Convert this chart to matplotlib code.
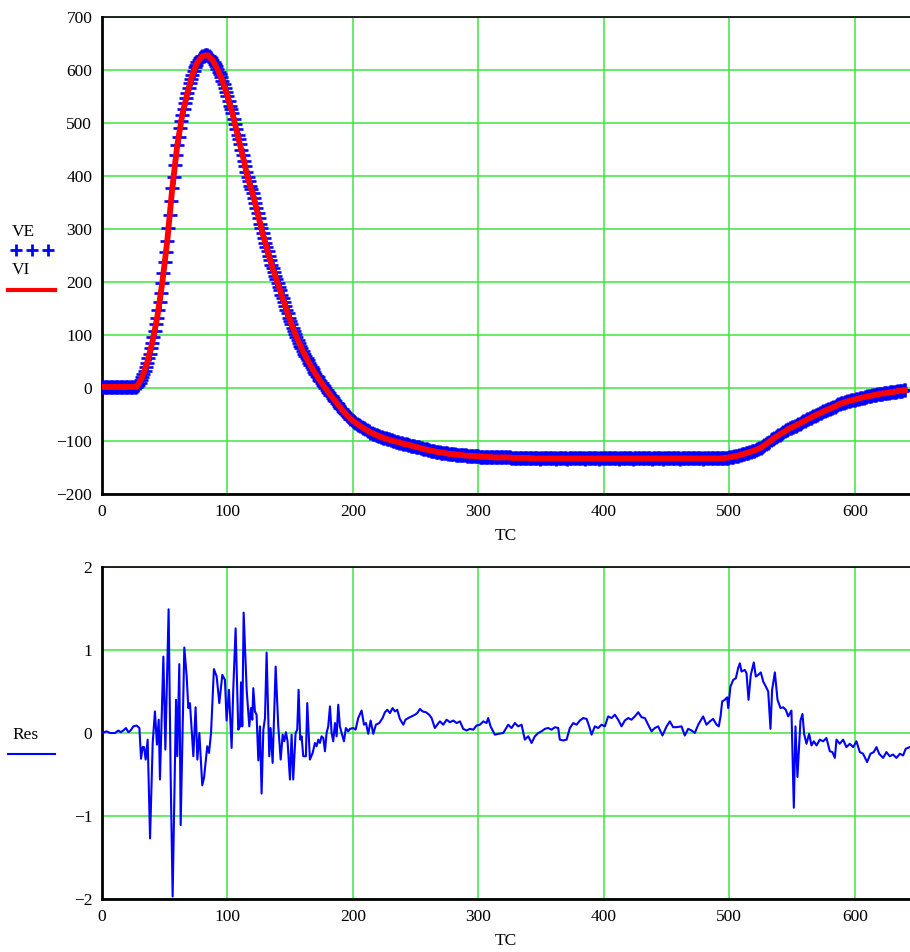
import numpy as np
import matplotlib
matplotlib.use("Agg")
import matplotlib.pyplot as plt
from matplotlib.lines import Line2D

plt.rcParams['font.family'] = ['Liberation Serif', 'DejaVu Serif']
plt.rcParams['axes.unicode_minus'] = True

# ---------------- data ----------------
# VE: measured values, one per TC step (TC = 0 .. 640)
ve = [
    2, 2, 2, 2, 2, 2, 2, 2, 2, 2, 2, 2, 2, 2, 2, 2, 2, 2, 2, 2,
    2, 2, 2, 2, 2, 2, 2, 2, 3, 6, 10, 15, 20, 26, 32, 40, 48, 56, 65, 75,
    85, 96, 107, 120, 133, 148, 163, 180, 198, 217, 237, 257, 277, 302, 327, 352, 377, 399, 420, 440,
    458, 474, 490, 503, 516, 527, 537, 547, 556, 566, 575, 583, 591, 598, 605, 610, 615, 619, 622, 624,
    626, 627, 628, 628, 628, 627, 625, 622, 619, 615, 611, 607, 602, 597, 592, 586, 580, 573, 566, 559,
    551, 542, 533, 526, 518, 508, 498, 488, 478, 469, 460, 450, 440, 429, 418, 408, 398, 390, 382, 375,
    368, 359, 350, 340, 330, 320, 310, 301, 292, 283, 274, 266, 258, 249, 241, 233, 226, 219, 212, 205,
    198, 191, 184, 176, 169, 162, 155, 148, 141, 133, 126, 120, 114, 108, 102, 96, 91, 85, 80, 75,
    70, 65, 61, 56, 52, 47, 43, 39, 35, 31, 27, 23, 20, 16, 13, 9, 6, 3, 0, -3,
    -7, -10, -13, -16, -19, -22, -25, -28, -31, -34, -37, -40, -43, -45, -48, -50, -53, -55, -58, -60,
    -62, -64, -66, -67, -69, -70, -72, -73, -75, -76, -78, -79, -81, -82, -84, -85, -86, -87, -88, -89,
    -90, -91, -92, -93, -94, -94, -95, -96, -97, -97, -98, -99, -100, -100, -101, -101, -102, -103, -104, -104,
    -105, -105, -106, -106, -107, -108, -109, -109, -110, -110, -111, -111, -112, -112, -113, -114, -115, -115, -116, -116,
    -117, -117, -118, -118, -119, -119, -120, -120, -121, -121, -122, -122, -122, -123, -123, -123, -124, -124, -124, -125,
    -125, -125, -126, -126, -126, -126, -127, -127, -127, -127, -127, -128, -128, -128, -128, -128, -128, -129, -129, -129,
    -129, -130, -130, -130, -130, -130, -130, -130, -130, -130, -130, -131, -131, -131, -131, -131, -131, -131, -131, -131,
    -131, -131, -131, -131, -131, -131, -132, -132, -132, -132, -132, -132, -132, -132, -132, -132, -132, -132, -132, -132,
    -132, -133, -133, -133, -132, -133, -133, -133, -133, -134, -133, -133, -133, -133, -133, -132, -133, -133, -133, -133,
    -133, -133, -134, -133, -133, -133, -133, -133, -133, -133, -133, -134, -133, -133, -133, -133, -133, -133, -132, -133,
    -133, -133, -133, -133, -133, -134, -133, -133, -133, -133, -133, -133, -133, -133, -133, -133, -134, -133, -133, -133,
    -133, -133, -133, -133, -132, -133, -133, -133, -133, -133, -133, -133, -134, -133, -133, -133, -133, -133, -133, -133,
    -133, -133, -133, -134, -133, -133, -133, -133, -133, -133, -133, -133, -133, -132, -133, -133, -133, -133, -134, -133,
    -133, -133, -133, -133, -133, -133, -133, -134, -133, -133, -133, -133, -133, -133, -133, -133, -133, -133, -133, -133,
    -133, -134, -133, -133, -133, -133, -133, -133, -133, -133, -132, -133, -133, -133, -133, -133, -133, -133, -133, -134,
    -133, -133, -133, -133, -133, -133, -133, -133, -133, -133, -133, -133, -133, -133, -133, -133, -132, -132, -132, -132,
    -131, -131, -130, -130, -129, -129, -128, -128, -127, -126, -125, -125, -124, -123, -122, -122, -121, -120, -119, -119,
    -118, -117, -116, -115, -114, -113, -111, -110, -108, -106, -104, -103, -101, -99, -97, -96, -94, -92, -91, -89,
    -88, -86, -85, -83, -82, -80, -79, -77, -76, -75, -74, -73, -72, -71, -69, -68, -67, -66, -64, -63,
    -62, -61, -59, -58, -57, -56, -54, -53, -52, -51, -50, -49, -48, -47, -45, -44, -43, -42, -41, -40,
    -39, -38, -37, -36, -35, -34, -32, -31, -30, -29, -28, -28, -27, -26, -25, -25, -24, -23, -23, -22,
    -22, -21, -20, -20, -19, -19, -18, -18, -17, -17, -16, -16, -15, -15, -14, -14, -13, -13, -12, -12,
    -11, -11, -11, -10, -10, -10, -9, -9, -8, -8, -8, -7, -7, -7, -6, -6, -5, -5, -5, -4,
    -4,
]

# VI: fitted curve, every 4th TC step
vi = [
    2, 2, 2, 2, 2, 2, 2,
    3, 20, 48, 85, 133, 198, 277, 377, 458, 516, 556, 591, 615, 626, 628, 619, 602, 580,
    551, 518, 478, 440, 398, 368, 330, 292, 258, 226, 198, 169, 141, 114, 91, 70, 52, 35, 20, 6,
    -7, -19, -31, -43, -53, -62, -69, -75, -81, -86, -90, -94, -97, -100, -102, -105, -107, -110,
    -112, -115, -117, -119, -121, -122, -124, -125, -126, -127, -128, -128, -129, -130, -130,
    -131, -131, -131, -131, -132, -132, -132, -132,
    -133, -133, -133, -133, -133, -133, -133, -133, -133, -133, -133, -133, -133, -133, -133, -133,
    -133, -133, -133, -133, -133, -133, -133, -133, -133, -133, -133, -133, -133, -133, -133, -133,
    -133, -133, -133, -133, -133,
    -133, -132, -131, -129, -127, -124, -121, -118, -114, -108, -101, -94, -88, -82, -76, -72,
    -67, -62, -57, -52, -48, -43, -39, -35, -30, -27, -24, -22, -19, -17, -15, -13, -11, -10,
    -8, -7, -5, -4,
]

# Res: residuals (TC, value) pairs
res_x = [
    0, 3.7, 6.4, 10.4, 13, 14.9, 17, 19.1, 21, 22.8, 25, 27.6, 29.8, 31.1, 32.4, 33.5, 34.8, 36.4,
    38.3, 40.4, 42.2, 43.8, 45.2, 46.2, 48.9, 50.5, 53.1, 54.7, 56.3, 59, 60, 61.6, 62.7, 65.6,
    67.5, 68.8, 70.1, 71.5, 72.8, 74.6, 76, 77.6, 79.9, 81.3, 83.9, 85.3, 86.9, 89.2, 91.4, 93.5,
    95.9, 98, 99.3, 101.2, 103.3, 104.6, 106.5, 108.6, 110, 110.8, 111.8, 112.9, 115.3, 117.4,
    118.7, 119.8, 120.6, 121.9, 123.2, 124.6, 125.9, 127.2, 128.6, 129.9, 131.2, 133.3, 134.4,
    136, 138.4, 140.5, 142.4, 144, 145.3, 146.6, 147.9, 149.8, 151.1, 152.4, 154.3, 155.6, 156.7,
    158, 159.1, 160.4, 162.5, 163.6, 165.7, 167.9, 169.7, 171, 172.4, 173.7, 175, 176.4, 177.7,
    179, 180.3, 181.7, 183, 184.3, 185.7, 187, 188.3, 189.6, 191, 192.8, 194.4, 196.3, 197.6,
    200.3, 202.1, 204.2, 206.9, 208.8, 210.4, 212.2, 214.1, 216.2, 218.3, 221, 223.6, 225.5,
    227.4, 229.5, 231.6, 233.5, 235.3, 237.4, 240.1, 241.9, 244.1, 246.7, 249.4, 251.3, 253.4,
    255.5, 258.2, 260.8, 262.7, 265.3, 267.2, 269.3, 272, 274.6, 277.3, 280, 282.6, 285.3, 287.9,
    290.6, 293.2, 295.9, 298.5, 301.2, 303.9, 306.5, 307.8, 309.7, 313.1, 315.8, 319.8, 323.8,
    326.4, 329.1, 331.7, 334.4, 337, 339.7, 342.4, 345, 347.7, 350.3, 353, 355.6, 358.3, 361,
    363.6, 364.9, 367.6, 370.3, 372.9, 375.6, 378.2, 380.9, 383.5, 386.2, 388.3, 390.2, 392.8,
    395.5, 398.1, 400.8, 403.4, 406.1, 408.8, 411.4, 414.1, 416.7, 419.4, 422, 424.7, 427.4, 430,
    432.7, 435.3, 438, 440.6, 443.3, 446.7, 450, 452.6, 455.2, 457.9, 461.9, 464.5, 467.2, 469.9,
    472.5, 475.2, 479.1, 481.8, 484.5, 487.1, 489.8, 491.6, 493, 494.3, 496.4, 498.3, 499.1,
    500.9, 503.1, 505.2, 507, 508.4, 509.7, 512.3, 513.7, 515.3, 517.1, 519.5, 521.1, 523, 525.1,
    527, 529.1, 531, 532.8, 534.1, 536.3, 538.4, 540.8, 542.9, 545, 546.9, 549.5, 551.4, 552.7,
    554.3, 556.7, 558.3, 559.6, 561.5, 563.6, 565.5, 567.3, 569.5, 572.1, 574.8, 577.4, 580.1,
    582.2, 584.1, 585.4, 588, 590.7, 593.3, 596, 598.7, 601.3, 604, 606.6, 609.8, 612.5, 615.1,
    617.3, 619.4, 622.6, 625.2, 627.9, 630.5, 633.2, 635.9, 638.5, 640.6, 643.8,
]
res_y = [
    0.0, 0.02, 0.0, 0.0, 0.03, 0.01, 0.03, 0.06, 0.01, 0.03, 0.08, 0.09, 0.06, -0.31, -0.17, -0.17, -0.32, -0.08,
    -1.27, -0.12, 0.26, -0.14, 0.16, -0.56, 0.92, -0.2, 1.49, -0.5, -1.97, 0.4, -0.28, 0.83, -1.11, 1.03,
    0.68, 0.3, 0.36, 0.02, -0.28, 0.31, -0.32, 0.0, -0.63, -0.54, -0.16, -0.24, 0.0, 0.77, 0.68, 0.36,
    0.7, 0.64, 0.15, 0.52, -0.18, 0.52, 1.26, 0.04, 0.08, 0.61, 0.08, 1.45, 0.52, 0.08,
    0.3, 0.16, 0.54, 0.26, 0.22, -0.33, 0.08, -0.73, 0.04, 0.18, 0.97, -0.28, 0.06,
    -0.36, 0.8, 0.08, -0.32, -0.02, -0.1, 0.01, -0.1, -0.56, -0.02, -0.56, 0.0, 0.04, 0.52,
    -0.08, -0.04, -0.28, -0.28, 0.36, -0.32, -0.24, -0.12, -0.16, -0.08, -0.12, -0.04, -0.06, -0.22,
    0.0, 0.08, 0.32, 0.0, -0.1, 0.12, -0.04, 0.34, 0.08, 0.0, -0.1, 0.06, 0.02, 0.05,
    0.06, 0.04, 0.18, 0.27, 0.1, 0.12, -0.01, 0.15, -0.01, 0.1, 0.12, 0.18, 0.25,
    0.28, 0.24, 0.3, 0.26, 0.28, 0.17, 0.1, 0.16, 0.18, 0.2, 0.22, 0.24, 0.29,
    0.26, 0.25, 0.22, 0.18, 0.06, 0.1, 0.14, 0.1, 0.16, 0.13, 0.15, 0.12, 0.14, 0.05,
    0.03, 0.05, 0.04, 0.09, 0.1, 0.14, 0.12, 0.18, 0.08, -0.02, -0.01, 0.0, 0.1,
    0.06, 0.12, 0.08, 0.1, -0.08, -0.04, -0.12, -0.04, 0.0, 0.02, 0.05, 0.06, 0.04, 0.07,
    0.06, -0.08, -0.09, -0.08, 0.06, 0.12, 0.1, 0.15, 0.18, 0.17, 0.08, -0.02, 0.08,
    0.06, 0.1, 0.08, 0.2, 0.18, 0.22, 0.16, 0.08, 0.15, 0.18, 0.16, 0.2, 0.25, 0.19,
    0.18, 0.1, 0.02, 0.06, 0.08, -0.03, 0.08, 0.14, 0.07, 0.07, 0.08, -0.03, 0.05, 0.03,
    0.0, 0.1, 0.2, 0.1, 0.14, 0.17, 0.1, 0.08, 0.2, 0.38, 0.4, 0.43, 0.3,
    0.56, 0.64, 0.66, 0.78, 0.84, 0.74, 0.76, 0.72, 0.4, 0.7, 0.85, 0.68, 0.7, 0.73,
    0.62, 0.56, 0.5, 0.05, 0.52, 0.73, 0.4, 0.3, 0.31, 0.28, 0.2, 0.27, -0.9, 0.08,
    -0.53, 0.15, 0.23, -0.01, -0.13, -0.01, -0.15, -0.1, -0.15, -0.08, -0.1, -0.06, -0.22,
    -0.23, -0.3, -0.08, -0.13, -0.08, -0.17, -0.13, -0.17, -0.1, -0.23, -0.25, -0.35, -0.25, -0.23,
    -0.17, -0.25, -0.3, -0.23, -0.28, -0.26, -0.3, -0.25, -0.27, -0.19, -0.17,
]

tc_ve = np.arange(len(ve))
tc_vi = np.arange(len(vi)) * 4

x_ticks = [0, 100, 200, 300, 400, 500, 600]
top_yticks = [-200, -100, 0, 100, 200, 300, 400, 500, 600, 700]
bot_yticks = [-2, -1, 0, 1, 2]

# ---------------- figure ----------------
W, H = 910, 952
fig = plt.figure(figsize=(W / 100, H / 100), dpi=100)

def fbox(l, t, r, b):
    return [l / W, 1 - b / H, (r - l) / W, (b - t) / H]

ax1 = fig.add_axes(fbox(102, 17, 910, 494))
ax2 = fig.add_axes(fbox(102, 567, 910, 899))

GRID = '#3ee63e'
BLUE = '#0000ff'
RED = '#ff0000'
FS = 12.5

def style(ax, yticks, ylim):
    ax.set_xlim(0, 644)
    ax.set_ylim(*ylim)
    ax.set_xticks(x_ticks)
    ax.set_yticks(yticks)
    ax.grid(True, color=GRID, lw=1.1)
    ax.set_axisbelow(True)
    ax.tick_params(length=0, labelsize=FS, pad=7)
    ax.spines['right'].set_visible(False)
    ax.spines['left'].set_linewidth(2.0)
    ax.spines['bottom'].set_linewidth(2.0)
    ax.spines['top'].set_linewidth(1.2)
    for s in ('left', 'bottom', 'top'):
        ax.spines[s].set_color('black')
    ax.set_xlabel('TC', fontsize=FS, labelpad=6)

style(ax1, top_yticks, (-200, 700))
ax1.plot(tc_ve, ve, linestyle='none', marker='+', ms=10.5, mew=1.9, color=BLUE, zorder=3)
ax1.plot(tc_vi, vi, color=RED, lw=4.2, zorder=4, solid_joinstyle='round')

style(ax2, bot_yticks, (-2, 2))
ax2.plot(res_x, res_y, color=BLUE, lw=1.5, zorder=3)

# left-side legends (Mathcad style)
fig.text(12 / W, 1 - 232 / H, 'VE', fontsize=FS, va='center', ha='left')
for px in (16, 32, 48):
    fig.add_artist(Line2D([px / W], [1 - 250 / H], marker='+', ms=9, mew=2.0,
                          color=BLUE, linestyle='none', transform=fig.transFigure))
fig.text(12 / W, 1 - 270 / H, 'VI', fontsize=FS, va='center', ha='left')
fig.add_artist(Line2D([8 / W, 55 / W], [1 - 290 / H, 1 - 290 / H], color=RED, lw=3,
                      transform=fig.transFigure))

fig.text(12 / W, 1 - 735 / H, 'Res', fontsize=FS, va='center', ha='left')
fig.add_artist(Line2D([8 / W, 55 / W], [1 - 754 / H, 1 - 754 / H], color=BLUE, lw=1.5,
                      transform=fig.transFigure))

fig.savefig('out.png', dpi=100)
